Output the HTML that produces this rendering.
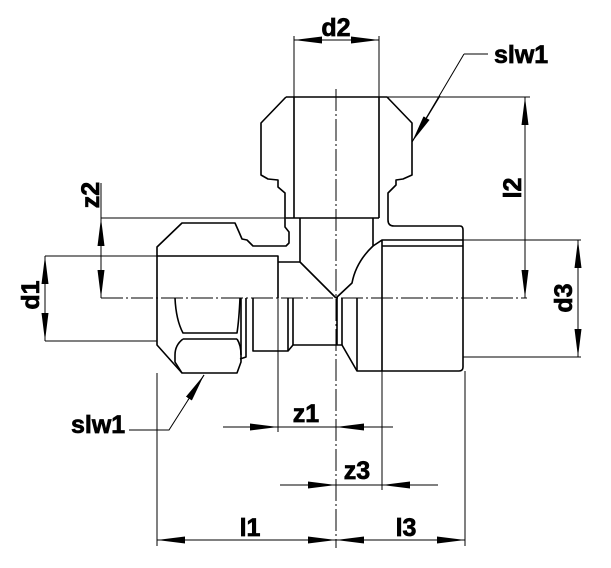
<!DOCTYPE html>
<html><head><meta charset="utf-8"><style>
html,body{margin:0;padding:0;background:#fff;}
svg{display:block;}
text{font-family:"Liberation Sans",Arial,sans-serif;font-weight:bold;font-size:25px;fill:#000;stroke:#000;stroke-width:0.7px;}
</style></head><body>
<svg width="611" height="568" viewBox="0 0 611 568" xmlns="http://www.w3.org/2000/svg">
<defs>
<marker id="a" viewBox="0 0 28 7" refX="28" refY="3.5" markerWidth="28" markerHeight="7" markerUnits="userSpaceOnUse" orient="auto"><path d="M0,0 L28,3.5 L0,7 Z" fill="#000"/></marker>
</defs>
<g fill="none" stroke="#000" stroke-width="1.6" stroke-linejoin="round">
<path d="M286,97 L387,97 L412,123 L412,175 L403,179 L396,180 L396,185 L388,193 L388,220 Q388,226 394,226 L460,226 Q463,226 463,230 L463,367 Q463,371 459,371 L357,371 L342,345 L293,345 L288,351 L253,351 L253,298"/>
<path d="M286,97 L261,123 L261,175 L268,179 L278,180 L278,187 L285,193 L285,227 L289,232 L289,243 L286,246 L253,246 L247,240 L242,239 L239,232 L235,223 L182,223 L157,247 L157,345 L182,373 L237,373 L241,362 L241,298"/>
<path d="M294,97 L294,218 M379,97 L379,218 M286,218 L379,218"/>
<path d="M300,218 L300,262 L336,298 M373,218 L373,246 Q356,262 352,283 L336,298"/>
<path d="M373,246 L382,240 L463,240 M382,246 L463,246 M382,240 L382,371"/>
<path d="M157,256 L278,256 L278,298 M278,262 L300,262"/>
<path d="M288,298 L288,351 M293,298 L293,345 M337,298 L337,345 M342,298 L342,345 M357,298 L357,371"/>
<path d="M246,298 L246,357 L240,359 M175,298 Q176,320 183,333 L237,333 Q239,320 240,298 M183,339 L237,339 M183,339 Q175,345 175,355 L175,362 L182,373 M237,339 Q241,345 241,355"/>
</g>
<g fill="none" stroke="#000" stroke-width="1">
<path d="M336,89 L336,548 M101,298 L527,298" stroke-dasharray="22,3,2,3"/>
<path d="M294,97 L294,36 M379,97 L379,36"/>
<path d="M387,97 L530,97"/>
<path d="M101,183 L101,298 M101,218 L286,218"/>
<path d="M45,256 L157,256 M45,341 L157,341"/>
<path d="M463,240 L581,240 M463,357 L581,357"/>
<path d="M278,298 L278,432 M382,371 L382,490 M157,373 L157,546 M465,371 L465,546"/>
<path d="M464,54 L488,54 M464,54 L412,142"/>
<path d="M129,430 L169,430 L204,375"/>
<path d="M223,427 L393,427 M280,485 L438,485 M157,540 L465,540"/>
<path d="M294,40 L379,40 M525,97 L525,298 M101,218 L101,298 M45,256 L45,341 M578,240 L578,357"/>
</g>
<g stroke="#000" stroke-width="1" fill="none">
<line x1="324" y1="40" x2="294" y2="40" marker-end="url(#a)"/>
<line x1="349" y1="40" x2="379" y2="40" marker-end="url(#a)"/>
<line x1="525" y1="127" x2="525" y2="97" marker-end="url(#a)"/>
<line x1="525" y1="268" x2="525" y2="298" marker-end="url(#a)"/>
<line x1="101" y1="248" x2="101" y2="218" marker-end="url(#a)"/>
<line x1="101" y1="268" x2="101" y2="298" marker-end="url(#a)"/>
<line x1="45" y1="286" x2="45" y2="256" marker-end="url(#a)"/>
<line x1="45" y1="311" x2="45" y2="341" marker-end="url(#a)"/>
<line x1="578" y1="270" x2="578" y2="240" marker-end="url(#a)"/>
<line x1="578" y1="327" x2="578" y2="357" marker-end="url(#a)"/>
<line x1="250" y1="427" x2="278" y2="427" marker-end="url(#a)"/>
<line x1="364" y1="427" x2="336" y2="427" marker-end="url(#a)"/>
<line x1="308" y1="485" x2="336" y2="485" marker-end="url(#a)"/>
<line x1="410" y1="485" x2="382" y2="485" marker-end="url(#a)"/>
<line x1="185" y1="540" x2="157" y2="540" marker-end="url(#a)"/>
<line x1="308" y1="540" x2="336" y2="540" marker-end="url(#a)"/>
<line x1="364" y1="540" x2="336" y2="540" marker-end="url(#a)"/>
<line x1="437" y1="540" x2="465" y2="540" marker-end="url(#a)"/>
<line x1="440" y1="96" x2="412" y2="142" marker-end="url(#a)"/>
<line x1="188" y1="400" x2="204" y2="375" marker-end="url(#a)"/>
</g>
<text x="336" y="36" text-anchor="middle">d2</text>
<text x="494" y="63">slw1</text>
<text x="71" y="433">slw1</text>
<text x="306" y="422" text-anchor="middle">z1</text>
<text x="357" y="479" text-anchor="middle">z3</text>
<text x="250" y="536" text-anchor="middle">l1</text>
<text x="406" y="536" text-anchor="middle">l3</text>
<text transform="translate(521,188) rotate(-90)" text-anchor="middle">l2</text>
<text transform="translate(99,195) rotate(-90)" text-anchor="middle">z2</text>
<text transform="translate(39,295) rotate(-90)" text-anchor="middle">d1</text>
<text transform="translate(572,298) rotate(-90)" text-anchor="middle">d3</text>
</svg>
</body></html>
